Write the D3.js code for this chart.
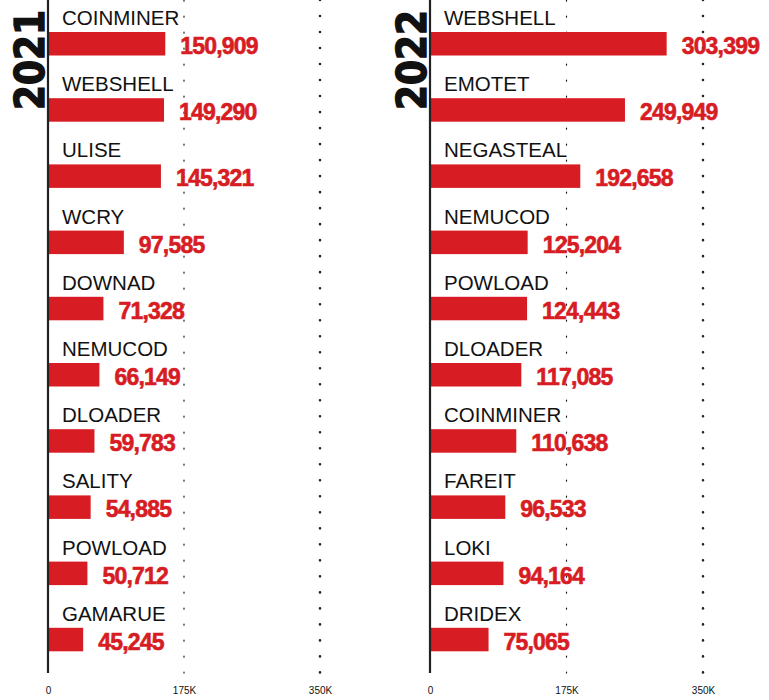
<!DOCTYPE html>
<html><head><meta charset="utf-8">
<script src="https://cdn.jsdelivr.net/npm/d3@7"></script>
<style>body{margin:0;background:#fff;}svg{display:block;font-family:"Liberation Sans",Arial,Helvetica,sans-serif;}</style>
</head><body>
<script>
const cats2021 = ["COINMINER","WEBSHELL","ULISE","WCRY","DOWNAD","NEMUCOD","DLOADER","SALITY","POWLOAD","GAMARUE"];
const vals2021 = [150909,149290,145321,97585,71328,66149,59783,54885,50712,45245];
const cats2022 = ["WEBSHELL","EMOTET","NEGASTEAL","NEMUCOD","POWLOAD","DLOADER","COINMINER","FAREIT","LOKI","DRIDEX"];
const vals2022 = [303399,249949,192658,125204,124443,117085,110638,96533,94164,75065];
const tickValues = [0,175000,350000];
const tickLabels = ["0","175K","350K"];
const years = ["2021","2022"];

const W = 769, H = 700, RED = "#d71c23";
const svg = d3.select("body").append("svg").attr("width",W).attr("height",H);

function panel(x0, x1, year, cats, vals, yearX){
  const x = d3.scaleLinear().domain([0,350000]).range([x0,x1]);
  const y = d3.scaleBand().domain(d3.range(cats.length)).range([10, 10+66.2*cats.length]).padding(0);
  const g = svg.append("g");
  [175000,350000].forEach((t,i)=>{
    g.append("line").attr("x1",x(t)).attr("x2",x(t)).attr("y1",0).attr("y2",673)
      .attr("stroke","#222").attr("stroke-width", i===0?1.2:2.6)
      .attr("stroke-linecap","round")
      .attr("stroke-dasharray", i===0?"1.2,14.8":"0.01,16");
  });
  g.selectAll("rect.bar").data(vals).join("rect")
    .attr("x", x(0)).attr("y",(d,i)=>y(i)+22)
    .attr("width", d=>x(d)-x(0)).attr("height",23.5).attr("fill",RED);
  g.selectAll("text.cat").data(cats).join("text")
    .attr("x", x(0)+14).attr("y",(d,i)=>y(i)+15)
    .attr("font-size",20.5).attr("fill","#111").text(d=>d);
  g.selectAll("text.val").data(vals).join("text")
    .attr("x", d=>x(d)+15).attr("y",(d,i)=>y(i)+44)
    .attr("font-size",23).attr("font-weight","bold").attr("letter-spacing","-0.8px")
    .attr("fill",RED).attr("stroke",RED).attr("stroke-width",0.6)
    .text(d=>d3.format(",")(d));
  g.append("line").attr("x1",x(0)).attr("x2",x(0)).attr("y1",0).attr("y2",673)
    .attr("stroke","#222").attr("stroke-width",2.2);
  const axis = d3.axisBottom(x).tickValues(tickValues).tickFormat((d,i)=>tickLabels[i]).tickSize(0).tickPadding(0);
  const ag = g.append("g").attr("transform","translate(0,687)").call(axis);
  ag.select(".domain").remove();
  ag.selectAll("text").attr("font-size",10).attr("fill","#111").attr("dy","0.71em")
    .attr("font-family","'Liberation Sans',Arial,sans-serif");
  g.append("text").attr("transform",`translate(${yearX},110) rotate(-90)`)
    .attr("font-size",40).attr("font-weight",900).attr("fill","#111")
    .attr("stroke","#111").attr("stroke-width",1.4)
    .attr("font-family","'DejaVu Sans','Liberation Sans',Arial,sans-serif")
    .attr("textLength",100).attr("lengthAdjust","spacingAndGlyphs")
    .text(year);
}
panel(48, 320, years[0], cats2021, vals2021, 44);
panel(430, 703, years[1], cats2022, vals2022, 426);
</script>
</body></html>
